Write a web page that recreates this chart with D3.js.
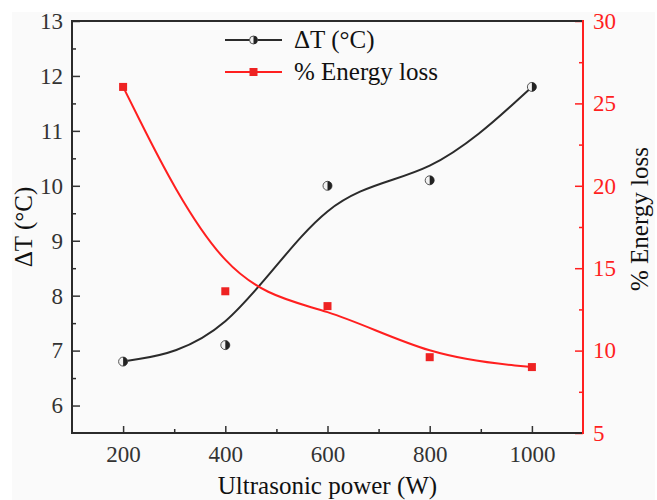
<!DOCTYPE html>
<html>
<head>
<meta charset="utf-8">
<script src="https://cdn.jsdelivr.net/npm/d3@7"></script>
<style>
  html, body { margin: 0; padding: 0; background: #ffffff; }
  svg { display: block; }
  text { font-family: "Liberation Serif", "Times New Roman", serif; }
</style>
</head>
<body>
<div id="chart"></div>
<script>
// ---- data ----
const powers = [200, 400, 600, 800, 1000];
const deltaT = [6.8, 7.1, 10.0, 10.1, 11.8];
const energyLoss = [26.0, 13.6, 12.7, 9.6, 9.0];
const xTicks = [200, 400, 600, 800, 1000];
const xMinorTicks = [300, 500, 700, 900];
const leftTicks = [6, 7, 8, 9, 10, 11, 12, 13];
const leftMinorTicks = [6.5, 7.5, 8.5, 9.5, 10.5, 11.5, 12.5];
const rightTicks = [5, 10, 15, 20, 25, 30];
const rightMinorTicks = [7.5, 12.5, 17.5, 22.5, 27.5];
const seriesNames = ["\u0394T (\u00B0C)", "% Energy loss"];
const xTitle = "Ultrasonic power (W)";
const leftTitle = "\u0394T (\u00B0C)";
const rightTitle = "% Energy loss";

// ---- layout ----
const W = 657, H = 500;
const L = 72, R = 583, T = 21, B = 433;
const dark = "#2b2b2b";
const red = "#ff1f1f";
const serif = "Liberation Serif, Times New Roman, serif";

const svg = d3.select("#chart").append("svg")
  .attr("width", W).attr("height", H)
  .attr("font-family", serif);

svg.append("rect").attr("x", 12).attr("y", 12).attr("width", 643).attr("height", 488)
  .attr("fill", "#fafafa");

const x = d3.scaleLinear().domain([100, 1100]).range([L, R]);
const yL = d3.scaleLinear().domain([5.5, 13]).range([B, T]);
const yR = d3.scaleLinear().domain([5, 30]).range([B, T]);

function styleAxis(g, color) {
  g.attr("font-family", serif).attr("font-size", 23);
  g.select(".domain").remove();
  g.selectAll(".tick line").attr("stroke", color).attr("stroke-width", 1.5);
  g.selectAll(".tick text").attr("fill", color)
    .attr("font-family", serif).attr("font-size", 23);
}

// bottom axis
const gx = svg.append("g").attr("transform", `translate(0,${B})`)
  .call(d3.axisBottom(x).tickValues(xTicks).tickSize(-7).tickPadding(13).tickFormat(d3.format("d")));
styleAxis(gx, "#333");
const gxm = svg.append("g").attr("transform", `translate(0,${B})`)
  .call(d3.axisBottom(x).tickValues(xMinorTicks).tickSize(-4).tickFormat(""));
styleAxis(gxm, dark);

// left axis
const gl = svg.append("g").attr("transform", `translate(${L},0)`)
  .call(d3.axisLeft(yL).tickValues(leftTicks).tickSize(-8).tickPadding(9).tickFormat(d3.format("d")));
styleAxis(gl, "#333");
const glm = svg.append("g").attr("transform", `translate(${L},0)`)
  .call(d3.axisLeft(yL).tickValues(leftMinorTicks).tickSize(-4).tickFormat(""));
styleAxis(glm, dark);

// right axis
const gr = svg.append("g").attr("transform", `translate(${R},0)`)
  .call(d3.axisRight(yR).tickValues(rightTicks).tickSize(-8).tickPadding(10).tickFormat(d3.format("d")));
styleAxis(gr, red);
const grm = svg.append("g").attr("transform", `translate(${R},0)`)
  .call(d3.axisRight(yR).tickValues(rightMinorTicks).tickSize(-4).tickFormat(""));
styleAxis(grm, red);

// frame lines
svg.append("line").attr("x1", L).attr("x2", R).attr("y1", T).attr("y2", T)
  .attr("stroke", dark).attr("stroke-width", 2);
svg.append("line").attr("x1", L).attr("x2", R).attr("y1", B).attr("y2", B)
  .attr("stroke", dark).attr("stroke-width", 2);
svg.append("line").attr("x1", L).attr("x2", L).attr("y1", T - 1).attr("y2", B + 1)
  .attr("stroke", dark).attr("stroke-width", 2);
svg.append("line").attr("x1", R).attr("x2", R).attr("y1", T - 1).attr("y2", B + 1)
  .attr("stroke", red).attr("stroke-width", 2);

// curves
const lineT = d3.line().x((d, i) => x(powers[i])).y(d => yL(d)).curve(d3.curveBasis);
const lineE = d3.line().x((d, i) => x(powers[i])).y(d => yR(d)).curve(d3.curveBasis);

svg.append("path").attr("d", lineT(deltaT)).attr("fill", "none")
  .attr("stroke", dark).attr("stroke-width", 2);
svg.append("path").attr("d", lineE(energyLoss)).attr("fill", "none")
  .attr("stroke", red).attr("stroke-width", 2);

// half-filled circle marker
function halfCircle(g, cx, cy, r) {
  g.append("circle").attr("cx", cx).attr("cy", cy).attr("r", r)
    .attr("fill", "#f2f2f2").attr("stroke", "#555").attr("stroke-width", 1);
  g.append("path")
    .attr("d", `M${cx},${cy - r} A${r},${r} 0 0 1 ${cx},${cy + r} Z`)
    .attr("fill", "#222");
}

const mk = svg.append("g");
deltaT.forEach((v, i) => halfCircle(mk, x(powers[i]), yL(v), 4.5));
const sq = 8;
energyLoss.forEach((v, i) => {
  mk.append("rect").attr("x", x(powers[i]) - sq / 2).attr("y", yR(v) - sq / 2)
    .attr("width", sq).attr("height", sq).attr("fill", "#ee2222");
});

// legend
const lg = svg.append("g");
const rows = [40, 72];
lg.append("line").attr("x1", 225).attr("x2", 282).attr("y1", rows[0]).attr("y2", rows[0])
  .attr("stroke", dark).attr("stroke-width", 2);
halfCircle(lg, 253.5, rows[0], 4);
lg.append("line").attr("x1", 225).attr("x2", 282).attr("y1", rows[1]).attr("y2", rows[1])
  .attr("stroke", red).attr("stroke-width", 2);
lg.append("rect").attr("x", 253.5 - 4).attr("y", rows[1] - 4).attr("width", 8).attr("height", 8)
  .attr("fill", "#ee2222");
seriesNames.forEach((s, i) => {
  lg.append("text").attr("x", 294).attr("y", rows[i] + 8)
    .attr("fill", "#111").attr("font-size", 25).text(s);
});

// axis titles
svg.append("text").attr("x", (L + R) / 2).attr("y", 494)
  .attr("text-anchor", "middle").attr("fill", "#111").attr("font-size", 25).text(xTitle);
svg.append("text").attr("transform", `translate(32,${(T + B) / 2}) rotate(-90)`)
  .attr("text-anchor", "middle").attr("fill", "#111").attr("font-size", 25).text(leftTitle);
svg.append("text").attr("transform", `translate(648,219) rotate(-90)`)
  .attr("text-anchor", "middle").attr("fill", "#111").attr("font-size", 25).text(rightTitle);
</script>
</body>
</html>
